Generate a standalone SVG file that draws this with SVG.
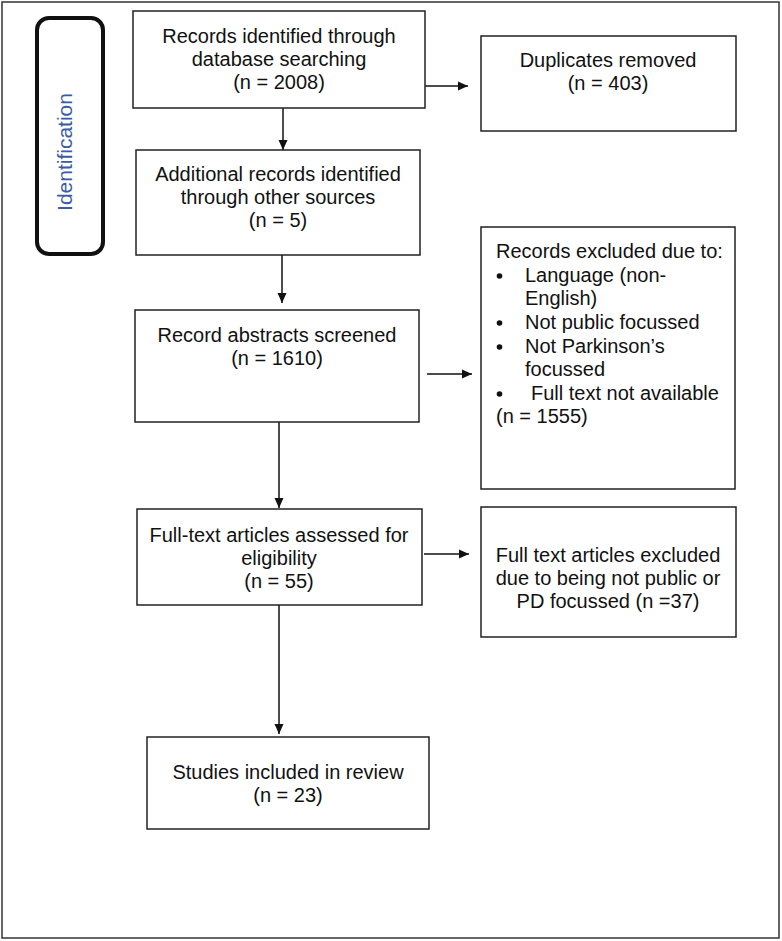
<svg xmlns="http://www.w3.org/2000/svg" width="782" height="941" viewBox="0 0 782 941">
<style>
.box{fill:#fff;stroke:#222;stroke-width:1.5}
.t{font-family:"Liberation Sans",Arial,sans-serif;font-size:20px;fill:#111}
.c{text-anchor:middle}
.dot{fill:#111}
.ln{stroke:#111;stroke-width:1.5;fill:none}
</style>
<defs>
<marker id="ah" markerWidth="10" markerHeight="10" refX="10" refY="5" orient="auto" markerUnits="userSpaceOnUse">
<path d="M0,0.5 L10,5 L0,9.5 Z" fill="#111"/>
</marker>
</defs>
<rect x="0" y="0" width="782" height="941" fill="#fff"/>
<rect x="2" y="2" width="777" height="936" fill="none" stroke="#333" stroke-width="1.5"/>
<g id="identification">
<rect x="37" y="18" width="66" height="236" rx="12" fill="#fff" stroke="#111" stroke-width="4"/>
<text class="t c" transform="translate(72,152) rotate(-90)" style="font-size:21px;fill:#3b5ba5">Identification</text>
</g>
<g id="connectors">
<line class="ln" x1="283" y1="108" x2="283" y2="150" marker-end="url(#ah)"/>
<line class="ln" x1="425" y1="86" x2="468" y2="86" marker-end="url(#ah)"/>
<line class="ln" x1="282" y1="255" x2="282" y2="303" marker-end="url(#ah)"/>
<line class="ln" x1="427" y1="374" x2="472" y2="374" marker-end="url(#ah)"/>
<line class="ln" x1="279" y1="422" x2="279" y2="508" marker-end="url(#ah)"/>
<line class="ln" x1="424" y1="554" x2="469" y2="554" marker-end="url(#ah)"/>
<line class="ln" x1="279" y1="605" x2="279" y2="734" marker-end="url(#ah)"/>
</g>
<g id="records-db">
<rect class="box" x="133" y="11" width="292" height="97"/>
<text class="t c" x="279" y="43">Records identified through</text>
<text class="t c" x="279" y="66">database searching</text>
<text class="t c" x="279" y="89">(n = 2008)</text>
</g>
<g id="duplicates">
<rect class="box" x="481" y="36" width="255" height="95"/>
<text class="t c" x="608" y="67">Duplicates removed</text>
<text class="t c" x="608" y="90">(n = 403)</text>
</g>
<g id="additional">
<rect class="box" x="136" y="150" width="284" height="105"/>
<text class="t c" x="278" y="181">Additional records identified</text>
<text class="t c" x="278" y="204">through other sources</text>
<text class="t c" x="278" y="227">(n = 5)</text>
</g>
<g id="screened">
<rect class="box" x="135" y="310" width="284" height="112"/>
<text class="t c" x="277" y="342">Record abstracts screened</text>
<text class="t c" x="277" y="365">(n = 1610)</text>
</g>
<g id="excluded">
<rect class="box" x="481" y="227" width="254" height="262"/>
<text class="t" x="496" y="258">Records excluded due to:</text>
<circle class="dot" cx="499.5" cy="276" r="2.8"/>
<text class="t" x="525" y="282">Language (non-</text>
<text class="t" x="525" y="305">English)</text>
<circle class="dot" cx="499.5" cy="323" r="2.8"/>
<text class="t" x="525" y="329">Not public focussed</text>
<circle class="dot" cx="499.5" cy="347" r="2.8"/>
<text class="t" x="525" y="353">Not Parkinson’s</text>
<text class="t" x="525" y="376">focussed</text>
<circle class="dot" cx="499.5" cy="394" r="2.8"/>
<text class="t" x="531" y="400">Full text not available</text>
<text class="t" x="496" y="423">(n = 1555)</text>
</g>
<g id="fulltext">
<rect class="box" x="137" y="509" width="285" height="96"/>
<text class="t c" x="279" y="542">Full-text articles assessed for</text>
<text class="t c" x="279" y="565">eligibility</text>
<text class="t c" x="279" y="588">(n = 55)</text>
</g>
<g id="fulltext-excluded">
<rect class="box" x="481" y="507" width="255" height="130"/>
<text class="t c" x="608" y="562">Full text articles excluded</text>
<text class="t c" x="608" y="585">due to being not public or</text>
<text class="t c" x="608" y="608">PD focussed (n =37)</text>
</g>
<g id="included">
<rect class="box" x="147" y="737" width="282" height="92"/>
<text class="t c" x="288" y="779">Studies included in review</text>
<text class="t c" x="288" y="802">(n = 23)</text>
</g>
</svg>
